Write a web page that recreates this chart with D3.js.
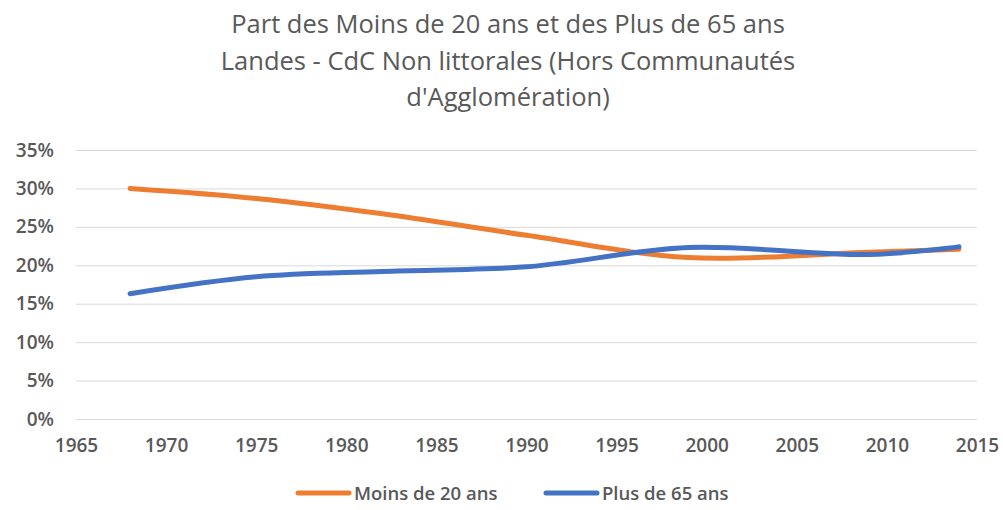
<!DOCTYPE html>
<html>
<head>
<meta charset="utf-8">
<script src="https://cdn.jsdelivr.net/npm/d3@7"></script>
<style>
  body { margin: 0; background: #fff; }
  svg text { font-family: "Open Sans", "DejaVu Sans", sans-serif; fill: #595959; }
</style>
</head>
<body>
<div id="chart"></div>
<script>
// census years and shares (%)
const years = [1968, 1975, 1982, 1990, 1999, 2009, 2014]
const moins20 = [30.0, 28.7, 26.7, 23.9, 21.0, 21.7, 22.1]
const plus65 = [16.3, 18.5, 19.2, 19.8, 22.3, 21.4, 22.4]
const seriesNames = ['Moins de 20 ans', 'Plus de 65 ans']
const seriesColors = ['#ED7D31', '#4472C4']
const xTicks = [1965, 1970, 1975, 1980, 1985, 1990, 1995, 2000, 2005, 2010, 2015]
const yTicks = [0, 5, 10, 15, 20, 25, 30, 35]
const titleLines = [
    'Part des Moins de 20 ans et des Plus de 65 ans',
    'Landes - CdC Non littorales (Hors Communautés',
    "d'Agglomération)"
]

const width = 1003, height = 510
const margin = { top: 150, right: 26, bottom: 91, left: 76 }

const svg = d3.select('#chart').append('svg')
    .attr('width', width)
    .attr('height', height)

const x = d3.scaleLinear().domain([1965, 2015]).range([margin.left, width - margin.right])
const y = d3.scaleLinear().domain([0, 35]).range([height - margin.bottom, margin.top])

// title
svg.append('g').selectAll('text')
    .data(titleLines)
    .enter()
    .append('text')
    .attr('x', 508)
    .attr('y', (d, i) => 33 + i * 36.5)
    .attr('text-anchor', 'middle')
    .style('font-size', '25.5px')
    .text(d => d)

// gridlines
svg.append('g')
    .call(d3.axisLeft(y).tickValues(yTicks).tickSize(-(x.range()[1] - x.range()[0])).tickFormat(''))
    .attr('transform', `translate(${margin.left}, 0)`)
    .call(g => g.select('.domain').remove())
    .call(g => g.selectAll('line').attr('stroke', '#d9d9d9').attr('stroke-width', 1))

// y labels
svg.append('g')
    .call(d3.axisLeft(y).tickValues(yTicks).tickSize(0).tickPadding(0).tickFormat(d => d + '%'))
    .attr('transform', `translate(54, 0)`)
    .call(g => g.select('.domain').remove())
    .selectAll('text')
    .style('font-size', '19px')
    .style('font-weight', '600')
    .style('fill', '#595959')

// x labels
svg.append('g')
    .call(d3.axisBottom(x).tickValues(xTicks).tickSize(0).tickPadding(0).tickFormat(d3.format('d')))
    .attr('transform', `translate(0, ${height - margin.bottom + 19})`)
    .call(g => g.select('.domain').remove())
    .selectAll('text')
    .style('font-size', '19px')
    .style('font-weight', '600')
    .style('fill', '#595959')

// lines
const line = d3.line()
    .x(d => x(d[0]))
    .y(d => y(d[1]))
    .curve(d3.curveCatmullRom.alpha(0.5))

const series = [moins20, plus65]
series.forEach((vals, i) => {
    svg.append('path')
        .datum(years.map((yr, j) => [yr, vals[j]]))
        .attr('fill', 'none')
        .attr('stroke', seriesColors[i])
        .attr('stroke-width', 5)
        .attr('stroke-linecap', 'round')
        .attr('d', line)
})

// legend
const legendX = [298, 546]
const legend = svg.append('g')
seriesNames.forEach((name, i) => {
    legend.append('line')
        .attr('x1', legendX[i]).attr('x2', legendX[i] + 51)
        .attr('y1', 493).attr('y2', 493)
        .attr('stroke', seriesColors[i])
        .attr('stroke-width', 5)
        .attr('stroke-linecap', 'round')
    legend.append('text')
        .attr('x', legendX[i] + 56)
        .attr('y', 500)
        .style('font-size', '18.5px')
        .style('font-weight', '600')
        .text(name)
})
</script>
</body>
</html>
